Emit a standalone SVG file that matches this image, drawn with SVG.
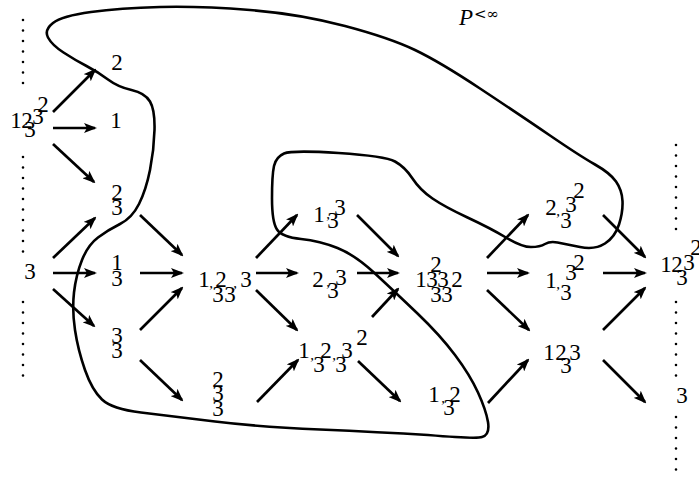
<svg xmlns="http://www.w3.org/2000/svg" width="699" height="487" viewBox="0 0 699 487">
<defs>
<style>
.t{font-family:"Liberation Serif","Times New Roman",serif;font-size:23px;fill:#000;text-anchor:middle}
.c{font-family:"Liberation Serif","Times New Roman",serif;font-size:15px;fill:#000;text-anchor:middle}
.a{stroke:#000;stroke-width:2.7;fill:none;marker-end:url(#ah)}
.d{stroke:#000;stroke-width:2.6;stroke-linecap:round;stroke-dasharray:0 10.5;fill:none}
.curve{stroke:#000;stroke-width:2.6;fill:none;stroke-linejoin:round}
</style>
<marker id="ah" viewBox="0 0 13 10" refX="11" refY="5" markerWidth="13" markerHeight="10" orient="auto" markerUnits="userSpaceOnUse">
<path d="M0,0 L13,5 L0,10 L3,5 z" fill="#000"/>
</marker>
</defs>
<rect width="699" height="487" fill="#fff"/>

<g id="title">
<text x="459" y="25" style="font-family:'Liberation Serif',serif;font-size:23px;font-style:italic">P</text>
<text x="474" y="19" style="font-family:'DejaVu Serif',serif;font-size:15px">&lt;∞</text>
</g>

<g id="dots">
<line class="d" x1="23" y1="20" x2="23" y2="84"/>
<line class="d" x1="23" y1="157" x2="23" y2="252"/>
<line class="d" x1="23" y1="302" x2="23" y2="386"/>
<line class="d" x1="676" y1="145" x2="676" y2="235"/>
<line class="d" x1="676" y1="302" x2="676" y2="380"/>
<line class="d" x1="676" y1="417" x2="676" y2="480"/>
</g>

<g id="region">
<path class="curve" d="M160,7 Q120,8 91,12 Q62,16 53,23 Q44,30 48,37.5 Q52,45 63.5,52.5 Q75,60 86.5,66 Q98,72 108,79.5 Q118,87 131.5,90 Q145,93 150,101.5 Q155,110 154.5,130 Q154,150 150,170 Q146,190 139,204 Q132,218 120,224 Q108,230 98,237.5 Q88,245 82,260 Q76,275 74,292.5 Q72,310 75,330 Q78,350 85,370 Q92,390 102,399.5 Q112,409 141,412.5 Q170,416 215,421.5 Q260,427 320,429.5 Q380,432 428,435 Q476,439 482,437 Q490,435 488,422 Q486,410 478,392.5 Q470,375 455,355 Q440,335 417.5,313.5 Q395,292 375,273.5 Q355,255 337.5,248 Q320,241 301,239 Q282,237 277,229.5 Q272,222 272,198.5 Q272,175 274,166 Q276,157 284,153.5 Q292,150 338.5,153 Q385,156 395,161.5 Q405,167 412.5,178.5 Q420,190 432.5,198.5 Q445,207 467.5,217.5 Q490,228 506,237.5 Q522,247 531,247 Q540,247 545,244 Q550,241 557.5,242.5 Q565,244 580,247 Q595,250 605,243.5 Q615,237 619,224.5 Q623,212 622.5,201 Q622,190 616,181.5 Q610,173 595,164.5 Q580,156 550,135.5 Q520,115 480,88.5 Q440,62 415,50 Q390,38 345,26 Q300,14 250,10 Q200,6 160,7 Z"/>
</g>

<g id="connectors">
<line class="a" x1="53" y1="112" x2="95" y2="70"/>
<line class="a" x1="53" y1="128" x2="95" y2="128"/>
<line class="a" x1="53" y1="144" x2="94" y2="182"/>
<line class="a" x1="53" y1="258" x2="95" y2="218"/>
<line class="a" x1="53" y1="273" x2="95" y2="273"/>
<line class="a" x1="53" y1="289" x2="94" y2="326"/>
<line class="a" x1="140" y1="215" x2="182" y2="255"/>
<line class="a" x1="140" y1="273" x2="182" y2="273"/>
<line class="a" x1="140" y1="330" x2="182" y2="288"/>
<line class="a" x1="140" y1="360" x2="182" y2="400"/>
<line class="a" x1="256" y1="258" x2="297" y2="215"/>
<line class="a" x1="256" y1="273" x2="297" y2="273"/>
<line class="a" x1="256" y1="290" x2="297" y2="330"/>
<line class="a" x1="257" y1="402" x2="298" y2="360"/>
<line class="a" x1="357" y1="215" x2="398" y2="256"/>
<line class="a" x1="357" y1="273" x2="398" y2="273"/>
<line class="a" x1="372" y1="317" x2="398" y2="289"/>
<line class="a" x1="358" y1="361" x2="400" y2="401"/>
<line class="a" x1="487" y1="258" x2="528" y2="215"/>
<line class="a" x1="487" y1="273" x2="528" y2="273"/>
<line class="a" x1="487" y1="290" x2="529" y2="330"/>
<line class="a" x1="488" y1="403" x2="528" y2="360"/>
<line class="a" x1="603" y1="215" x2="645" y2="257"/>
<line class="a" x1="603" y1="273" x2="645" y2="273"/>
<line class="a" x1="603" y1="330" x2="645" y2="288"/>
<line class="a" x1="603" y1="360" x2="645" y2="402"/>
</g>

<g id="n1"><text class="t" x="16" y="128">1</text><text class="t" x="27" y="128">2</text><text class="t" x="38" y="124">3</text><text class="t" x="43" y="112">2</text><text class="t" x="30" y="137">3</text></g>
<g id="n2"><text class="t" x="117" y="70">2</text></g>
<g id="n3"><text class="t" x="116" y="128">1</text></g>
<g id="n4"><text class="t" x="117" y="200">2</text><text class="t" x="117" y="215">3</text></g>
<g id="n5"><text class="t" x="30" y="279">3</text></g>
<g id="n6"><text class="t" x="117" y="270">1</text><text class="t" x="117" y="286">3</text></g>
<g id="n7"><text class="t" x="117" y="343">3</text><text class="t" x="117" y="358">3</text></g>
<g id="n8"><text class="t" x="204" y="287">1</text><text class="c" x="211" y="288">,</text><text class="t" x="221" y="287">2</text><text class="c" x="235" y="288">,</text><text class="t" x="246" y="287">3</text><text class="t" x="218" y="302">3</text><text class="t" x="230" y="302">3</text></g>
<g id="n9"><text class="t" x="218" y="387">2</text><text class="t" x="218" y="401">3</text><text class="t" x="218" y="416">3</text></g>
<g id="n10"><text class="t" x="319" y="222">1</text><text class="c" x="328" y="219">,</text><text class="t" x="340" y="215">3</text><text class="t" x="333" y="228">3</text></g>
<g id="n11"><text class="t" x="318" y="287">2</text><text class="c" x="328" y="287">,</text><text class="t" x="341" y="285">3</text><text class="t" x="333" y="298">3</text></g>
<g id="n12"><text class="t" x="304" y="358">1</text><text class="c" x="312" y="360">,</text><text class="t" x="326" y="358">2</text><text class="c" x="334" y="360">,</text><text class="t" x="347" y="358">3</text><text class="t" x="362" y="345">2</text><text class="t" x="319" y="372">3</text><text class="t" x="341" y="372">3</text></g>
<g id="n13"><text class="t" x="434" y="402">1</text><text class="c" x="443" y="403">,</text><text class="t" x="455" y="402">2</text><text class="t" x="449" y="415">3</text></g>
<g id="n14"><text class="t" x="436" y="272">2</text><text class="t" x="421" y="287">1</text><text class="t" x="432" y="287">3</text><text class="t" x="443" y="287">3</text><text class="t" x="457" y="287">2</text><text class="t" x="436" y="302">3</text><text class="t" x="447" y="302">3</text></g>
<g id="n15"><text class="t" x="551" y="215">2</text><text class="c" x="558" y="216">,</text><text class="t" x="571" y="212">3</text><text class="t" x="579" y="198">2</text><text class="t" x="566" y="228">3</text></g>
<g id="n16"><text class="t" x="551" y="288">1</text><text class="c" x="558" y="289">,</text><text class="t" x="571" y="280">3</text><text class="t" x="579" y="270">2</text><text class="t" x="566" y="300">3</text></g>
<g id="n17"><text class="t" x="666" y="272">1</text><text class="t" x="677" y="272">2</text><text class="t" x="689" y="270">3</text><text class="t" x="696" y="255">2</text><text class="t" x="682" y="285">3</text></g>
<g id="n18"><text class="t" x="549" y="360">1</text><text class="t" x="561" y="360">2</text><text class="t" x="575" y="360">3</text><text class="t" x="566" y="373">3</text></g>
<g id="n19"><text class="t" x="682" y="403">3</text></g>
</svg>
